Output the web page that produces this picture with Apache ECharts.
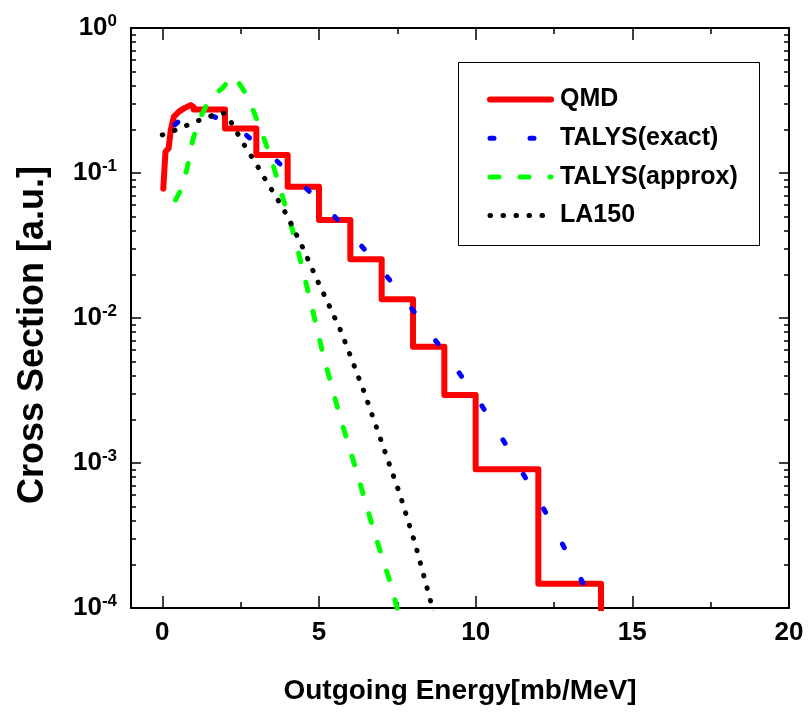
<!DOCTYPE html>
<html><head><meta charset="utf-8">
<script src="https://cdn.jsdelivr.net/npm/echarts@6/dist/echarts.min.js"></script>
<style>html,body{margin:0;padding:0;background:#fff}#c{width:811px;height:718px}</style>
</head><body><div id="c"></div>
<script>
// ---- data ----
const qmdRiseX = [0.03, 0.1, 0.2, 0.27, 0.37, 0.53, 0.69, 0.9, 1.0];
const qmdRiseY = [0.078, 0.14, 0.148, 0.198, 0.245, 0.265, 0.279, 0.294, 0.285];
const qmdBinEdges = [1, 2, 3, 4, 5, 6, 7, 8, 9, 10, 12, 14];
const qmdBinValues = [0.274, 0.203, 0.133, 0.0805, 0.0474, 0.0254, 0.01345, 0.00634, 0.00294, 0.000904, 0.000147];

const talysExactX = [0.4, 0.6, 1.0, 1.5, 2.0, 2.5, 3.0, 3.5, 4.0, 4.5, 5.0, 5.5, 6.0, 6.5, 7.0, 7.5, 8.0, 8.5, 9.0, 9.5, 10.0, 10.5, 11.0, 11.5, 12.0, 12.5, 13.0, 13.5, 13.9];
const talysExactY = [0.215, 0.235, 0.25, 0.252, 0.228, 0.196, 0.16, 0.13, 0.103, 0.082, 0.064, 0.050, 0.038, 0.029, 0.0215, 0.0157, 0.0113, 0.0081, 0.0058, 0.0041, 0.0029, 0.00195, 0.0013, 0.00085, 0.00056, 0.00036, 0.00022, 0.000139, 0.0001];

const talysApproxX = [0.42, 0.64, 0.8, 0.96, 1.1, 1.28, 1.54, 1.75, 1.92, 2.1, 2.24, 2.4, 2.55, 2.7, 2.9, 3.1, 3.3, 3.5, 3.7, 3.95, 4.24, 4.7, 5.15, 5.66, 6.21, 6.75, 7.34, 7.6];
const talysApproxY = [0.065, 0.080, 0.11, 0.165, 0.21, 0.259, 0.33, 0.36, 0.385, 0.43, 0.465, 0.43, 0.385, 0.34, 0.27, 0.21, 0.16, 0.12, 0.086, 0.057, 0.035, 0.0138, 0.0054, 0.00212, 0.00086, 0.00034, 0.000135, 0.00008];

const la150X = [0, 0.35, 0.7, 1.0, 1.35, 1.7, 2.0, 2.27, 2.5, 2.75, 3.0, 3.25, 3.5, 3.75, 4.0, 4.5, 4.92, 5.3, 5.67, 6.0, 6.45, 7.01, 7.58, 8.08, 8.62, 8.8];
const la150Y = [0.183, 0.195, 0.209, 0.224, 0.238, 0.254, 0.259, 0.211, 0.171, 0.14, 0.115, 0.093, 0.076, 0.062, 0.050, 0.030, 0.0187, 0.0125, 0.0084, 0.0055, 0.00305, 0.00137, 0.00061, 0.000272, 0.0001, 0.00007];

const seriesNames = ['QMD', 'TALYS(exact)', 'TALYS(approx)', 'LA150'];
const xMajorTicks = [0, 5, 10, 15, 20];
const xMinorTicks = [2.5, 7.5, 12.5, 17.5];
const yMajorTicks = [1e-4, 1e-3, 1e-2, 1e-1, 1];
const yMinorTicks = [];
for (let d = -4; d < 0; d++) for (let m = 2; m <= 9; m++) yMinorTicks.push(+(m * Math.pow(10, d)).toPrecision(3));
const xTitle = 'Outgoing Energy[mb/MeV]';
const yTitle = 'Cross Section [a.u.]';

// ---- build ----
const zip = (xs, ys) => xs.map((x, i) => [x, ys[i]]);
const qmdData = zip(qmdRiseX, qmdRiseY);
for (let i = 0; i < qmdBinValues.length; i++) {
  qmdData.push([qmdBinEdges[i], qmdBinValues[i]]);
  qmdData.push([qmdBinEdges[i + 1], qmdBinValues[i]]);
}
qmdData.push([qmdBinEdges[qmdBinEdges.length - 1], 1e-6]);

const FONT = '"Liberation Sans", Arial, Helvetica, sans-serif';
const black = '#000';
const tickStyle = {color: black, width: 1.5};

function xAx(pos, major, withLabel) {
  return {
    type: 'value', min: -1, max: 20, position: pos,
    axisLine: {show: major, onZero: false, lineStyle: {color: black, width: 2}},
    axisTick: {show: true, inside: true, length: major ? 12 : 6, customValues: major ? xMajorTicks : xMinorTicks, lineStyle: tickStyle},
    axisLabel: withLabel ? {show: true, customValues: xMajorTicks, fontFamily: FONT, fontWeight: 'bold', fontSize: 26, color: black, margin: 12} : {show: false},
    splitLine: {show: false},
    name: withLabel ? xTitle : '',
    nameLocation: 'middle', nameGap: 69,
    nameTextStyle: {fontFamily: FONT, fontWeight: 'bold', fontSize: 28, color: black}
  };
}
function yAx(pos, major, withLabel) {
  return {
    type: 'log', logBase: 10, min: 1e-4, max: 1, position: pos,
    axisLine: {show: major, onZero: false, lineStyle: {color: black, width: 2}},
    axisTick: {show: true, inside: true, length: major ? 10 : 5, customValues: major ? yMajorTicks : yMinorTicks, lineStyle: tickStyle},
    axisLabel: withLabel ? {
      show: true, customValues: yMajorTicks, margin: 14,
      formatter: v => '{b|10}{s|' + Math.round(Math.log10(v)) + '}',
      rich: {
        b: {fontFamily: FONT, fontWeight: 'bold', fontSize: 26, lineHeight: 30, color: black},
        s: {fontFamily: FONT, fontWeight: 'bold', fontSize: 17, lineHeight: 30, color: black, verticalAlign: 'top'}
      }
    } : {show: false},
    splitLine: {show: false},
    minorTick: {show: false},
    name: withLabel ? yTitle : '',
    nameLocation: 'middle', nameGap: 80,
    nameTextStyle: {fontFamily: FONT, fontWeight: 'bold', fontSize: 36, color: black, padding: [0, 34, 0, 0]}
  };
}

const chart = echarts.init(document.getElementById('c'), null, {renderer: 'canvas'});
chart.setOption({
  animation: false,
  backgroundColor: '#fff',
  grid: {left: 131, right: 22, top: 28, bottom: 110, containLabel: false},
  xAxis: [xAx('bottom', true, true), xAx('bottom', false, false), xAx('top', true, false), xAx('top', false, false)],
  yAxis: [yAx('left', true, true), yAx('left', false, false), yAx('right', true, false), yAx('right', false, false)],
  legend: {
    orient: 'vertical', left: 482, top: 82, itemWidth: 61, itemHeight: 25, itemGap: 13.7,
    selectedMode: false,
    itemStyle: {opacity: 0},
    lineStyle: {width: 'inherit'},
    textStyle: {fontFamily: FONT, fontWeight: 'bold', fontSize: 25, lineHeight: 25, color: black, padding: [0, 0, 0, 4]},
    data: seriesNames
  },
  graphic: [{
    type: 'rect', z: 1,
    shape: {x: 458.5, y: 62.5, width: 301, height: 183},
    style: {fill: '#fff', stroke: black, lineWidth: 1}
  }],
  series: [
    {name: seriesNames[0], type: 'line', data: qmdData, symbol: 'none', z: 3,
     lineStyle: {color: '#ff0000', width: 6, cap: 'round', join: 'round'}, itemStyle: {color: '#ff0000'}},
    {name: seriesNames[1], type: 'line', data: zip(talysExactX, talysExactY), symbol: 'none', z: 4,
     lineStyle: {color: '#0000ff', width: 5, type: [4, 36], cap: 'round', join: 'round'}, itemStyle: {color: '#0000ff'}},
    {name: seriesNames[2], type: 'line', data: zip(talysApproxX, talysApproxY), symbol: 'none', z: 5,
     lineStyle: {color: '#00ff00', width: 5, type: [9, 21], cap: 'round', join: 'round'}, itemStyle: {color: '#00ff00'}},
    {name: seriesNames[3], type: 'line', data: zip(la150X, la150Y), symbol: 'none', z: 6,
     lineStyle: {color: '#000000', width: 5, type: [0.5, 12.5], cap: 'round', join: 'round'}, itemStyle: {color: '#000000'}}
  ]
});
</script></body></html>
